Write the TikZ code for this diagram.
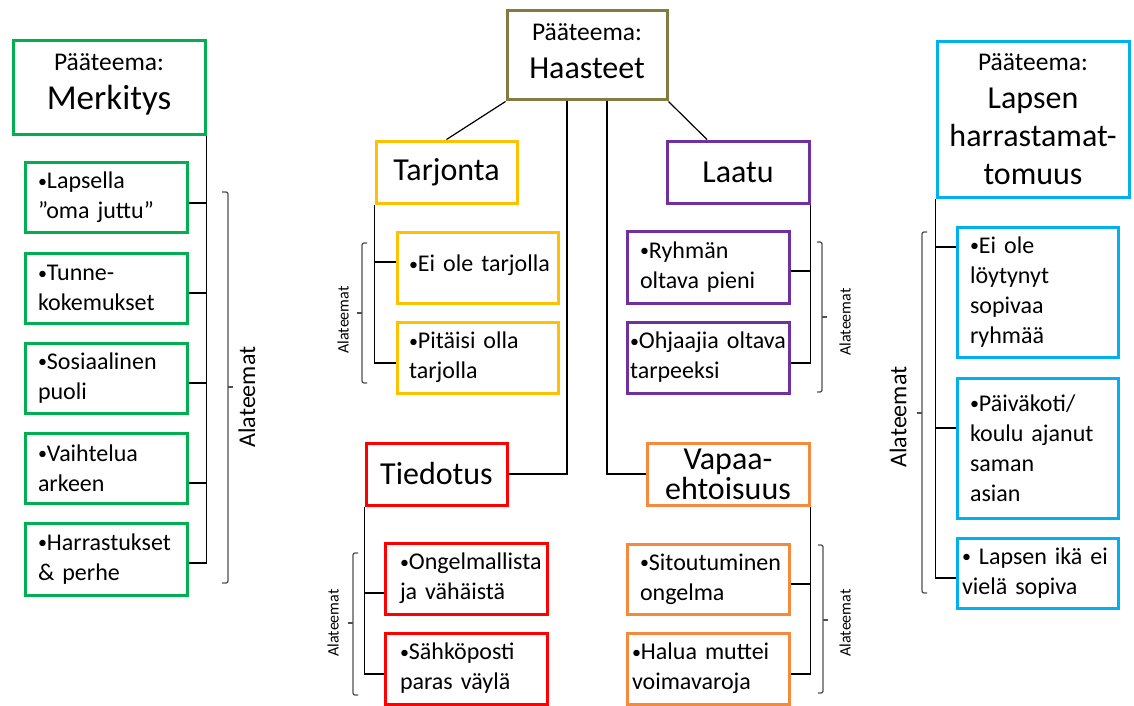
\documentclass[tikz,border=0pt]{standalone}
\usepackage{fontspec}
\setmainfont{Carlito}
\definecolor{cgreen}{HTML}{00B050}
\definecolor{cgold}{HTML}{FFC000}
\definecolor{cpurple}{HTML}{7030A0}
\definecolor{cred}{HTML}{FF0000}
\definecolor{corange}{HTML}{F58A3C}
\definecolor{cblue}{HTML}{00B0F0}
\definecolor{colive}{HTML}{857A40}
\definecolor{bracegray}{HTML}{505050}
\newcommand{\ptm}{{\fontsize{25.5}{30}\selectfont Pääteema:}}
\newcommand{\bul}{\raisebox{1.5pt}{\fontsize{18}{18}\selectfont •}}
\begin{document}
\begin{tikzpicture}[x=1pt,y=-1pt,
  conn/.style={draw=black, line width=1.2pt},
  brace/.style={draw=bracegray, line width=1.3pt, rounded corners=2pt},
  title/.style={draw=#1, line width=3pt, align=center, inner sep=0pt, font=\fontsize{32}{38}\selectfont},
  sub/.style={draw=#1, line width=3pt, align=left, inner ysep=0pt, inner xsep=13pt, text width=136pt, minimum height=70pt, font=\fontsize{24}{30}\selectfont},
  albl/.style={rotate=90, font=\fontsize{24}{29}\selectfont, inner sep=0pt},
  slbl/.style={rotate=90, font=\fontsize{16}{19}\selectfont, inner sep=0pt},
]
\useasboundingbox[fill=white] (0,0) rectangle (1134,706);

% ---------- left: Merkitys ----------
\node[title=cgreen, minimum width=192pt, minimum height=93pt, font=\fontsize{35}{39}\selectfont, text depth=12pt] (merk) at (109,87.5)
  {\ptm\\Merkitys};
\node[sub=cgreen] (l1) at (106,197.5) {\bul Lapsella\\”oma juttu”};
\node[sub=cgreen] (l2) at (106,288) {\bul Tunne-\\kokemukset};
\node[sub=cgreen] (l3) at (106,378) {\bul Sosiaalinen\\puoli};
\node[sub=cgreen] (l4) at (106,468) {\bul Vaihtelua\\arkeen};
\node[sub=cgreen, minimum height=72pt] (l5) at (106,559) {\mbox{\bul Harrastukset}\\\& perhe};
\draw[conn] ([yshift=-5.5pt]l1.east) -| (merk.south east);
\draw[conn] ([yshift=-5pt]l2.east) -| (merk.south east);
\draw[conn] ([yshift=-5pt]l3.east) -| (merk.south east);
\draw[conn] ([yshift=-15pt]l4.east) -| (merk.south east);
\draw[conn] ([yshift=-4pt]l5.east) -| (merk.south east);
\draw[brace] (222,192) -- (228,192) -- (228,583) -- (222,583);
\draw[brace] (228,387) -- (233,387);
\node[albl] (lal) at (247,397) {Alateemat};

% ---------- centre: Haasteet ----------
\node[title=colive, minimum width=160pt, minimum height=89pt, text depth=8pt] (haas) at (587,55.5)
  {\ptm\\Haasteet};
\node[title=cgold, minimum width=141pt, minimum height=62pt] (tarj) at (446.5,172) {Tarjonta};
\node[title=cpurple, minimum width=142pt, minimum height=62pt] (laat) at (738,172) {Laatu};
\node[title=cred, minimum width=141pt, minimum height=62pt] (tied) at (436.5,474) {Tiedotus};
\node[title=corange, minimum width=162pt, minimum height=62pt, font=\fontsize{32}{30}\selectfont] (vapa) at (728,474) {Vapaa-\\ehtoisuus};
\draw[conn] (haas.south west) -- (tarj.north);
\draw[conn] (haas.south east) -- ([xshift=-31pt]laat.north);
\draw[conn] ([xshift=-20pt]haas.south) |- (tied.east);
\draw[conn] ([xshift=20pt]haas.south) |- (vapa.west);

% Tarjonta
\node[sub=cgold, text width=137pt, inner xsep=12pt, minimum height=71pt, text depth=8pt] (t1) at (477.5,267.5) {\mbox{\bul Ei ole tarjolla}};
\node[sub=cgold, text width=137pt, inner xsep=12pt, minimum height=71pt] (t2) at (477.5,357.5) {\mbox{\bul Pitäisi olla}\\tarjolla};
\draw[conn] ([yshift=5.5pt]t1.west) -| (tarj.south west);
\draw[conn] ([yshift=-5.5pt]t2.west) -| (tarj.south west);
\draw[brace] (367,243) -- (362,243) -- (362,383) -- (367,383);
\draw[brace] (362,313) -- (357,313);
\node[slbl] (tal) at (343,320) {Alateemat};

% Laatu
\node[sub=cpurple, minimum height=72pt] (q1) at (708,267) {\mbox{\bul Ryhmän}\\\mbox{oltava pieni}};
\node[sub=cpurple, minimum height=71pt, inner xsep=3pt, text width=156pt] (q2) at (708,357.5) {\mbox{\bul Ohjaajia oltava}\\tarpeeksi};
\draw[conn] ([yshift=-4pt]q1.east) -| (laat.south east);
\draw[conn] ([yshift=-5.5pt]q2.east) -| (laat.south east);
\draw[brace] (817,242) -- (822,242) -- (822,392) -- (817,392);
\draw[brace] (822,317) -- (827,317);
\node[slbl] (qal) at (845,322) {Alateemat};

% Tiedotus
\node[sub=cred, minimum height=71pt, inner xsep=15pt, text width=132pt] (r1) at (466,578.5) {\mbox{\bul Ongelmallista}\\\mbox{ja vähäistä}};
\node[sub=cred, minimum height=71pt, inner xsep=15pt, text width=132pt] (r2) at (466,668.5) {\mbox{\bul Sähköposti}\\\mbox{paras väylä}};
\draw[conn] ([yshift=-14.5pt]r1.west) -| (tied.south west);
\draw[conn] ([yshift=-5.5pt]r2.west) -| (tied.south west);
\draw[brace] (358,553) -- (353,553) -- (353,695) -- (358,695);
\draw[brace] (353,623) -- (348,623);
\node[slbl] (ral) at (333,623) {Alateemat};

% Vapaaehtoisuus
\node[sub=corange] (o1) at (708,579) {\mbox{\bul Sitoutuminen}\\ongelma};
\node[sub=corange, minimum height=71pt, inner xsep=5pt, text width=152pt] (o2) at (708,668.5) {\mbox{\bul Halua muttei}\\voimavaroja};
\draw[conn] ([yshift=-5pt]o1.east) -| (vapa.south east);
\draw[conn] ([yshift=-5.5pt]o2.east) -| (vapa.south east);
\draw[brace] (818,545) -- (823,545) -- (823,693) -- (818,693);
\draw[brace] (823,620) -- (828,620);
\node[slbl] (oal) at (845,623) {Alateemat};

% ---------- right: Lapsen harrastamattomuus ----------
\node[title=cblue, minimum width=192pt, minimum height=155pt] (laps) at (1033,119.5)
  {\ptm\\Lapsen\\harrastamat-\\tomuus};
\node[sub=cblue, text width=135pt, minimum height=130pt] (b1) at (1037.5,292) {\bul Ei ole\\löytynyt\\sopivaa\\ryhmää};
\node[sub=cblue, text width=135pt, minimum height=140pt] (b2) at (1037.5,448) {\mbox{\bul Päiväkoti/}\\\mbox{koulu ajanut}\\saman\\asian};
\node[sub=cblue, inner xsep=5pt, text width=151pt, minimum height=70pt] (b3) at (1037.5,573) {\mbox{\bul{} Lapsen ikä ei}\\\mbox{vielä sopiva}};
\draw[conn] ([yshift=45pt]b1.west) -| (laps.south west);
\draw[conn] ([yshift=20pt]b2.west) -| (laps.south west);
\draw[conn] ([yshift=-5pt]b3.west) -| (laps.south west);
\draw[brace] (927,232) -- (922,232) -- (922,593) -- (927,593);
\draw[brace] (922,413) -- (917,413);
\node[albl] (ral2) at (898,417) {Alateemat};
\end{tikzpicture}
\end{document}
